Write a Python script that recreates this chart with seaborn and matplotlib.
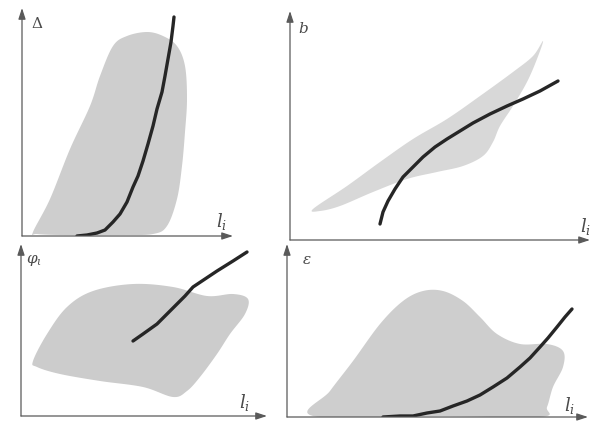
import numpy as np
import matplotlib
matplotlib.use("Agg")
import matplotlib.pyplot as plt
import seaborn as sns

sns.set_theme(style="white")
plt.rcParams["font.family"] = ["DejaVu Serif", "DejaVu Sans"]
plt.rcParams["mathtext.fontset"] = "dejavuserif"

# ---- Panel 1: deflection Δ versus l_i ----
delta_l = [55, 65, 75, 83, 91, 98, 105, 111, 116, 121, 126, 131, 135, 140, 143,
           146, 149, 151, 152]
delta_v = [0, 1, 3, 6, 14, 22, 34, 49, 60, 75, 92, 110, 127, 144, 160,
           177, 194, 210, 219]
delta_zone_x = [11, 28, 48, 68, 78, 91, 105, 125, 141, 155, 163, 165, 163, 160,
                155, 145, 131, 100, 40, 15]
delta_zone_y = [4, 37, 87, 130, 160, 190, 200, 204, 200, 190, 170, 137, 104, 70,
                37, 10, 2, 1, 1, 2]

# ---- Panel 2: width b versus l_i ----
b_l = [90, 93, 98, 105, 113, 123, 133, 145, 157, 170, 183, 200, 217, 233, 250, 268]
b_v = [16, 28, 39, 51, 63, 73, 83, 93, 101, 109, 117, 126, 134, 141, 149, 159]
b_zone_x = [23, 57, 90, 123, 157, 190, 223, 243, 253, 247, 237, 223, 210, 203,
            193, 173, 147, 117, 83, 50, 30]
b_zone_y = [31, 54, 78, 101, 121, 144, 168, 184, 199, 181, 158, 134, 114, 98,
            84, 74, 68, 61, 48, 34, 29]

# ---- Panel 3: angle φ_i versus l_i ----
phi_l = [112, 122, 136, 146, 156, 164, 172, 184, 196, 212, 226]
phi_v = [75, 82, 92, 102, 112, 120, 129, 137, 145, 155, 164]
phi_zone_x = [12, 26, 46, 72, 112, 152, 186, 212, 227, 224, 209, 196, 179, 166,
              152, 122, 79, 39, 16]
phi_zone_y = [55, 82, 109, 125, 132, 129, 120, 122, 117, 102, 82, 62, 39, 25,
              19, 29, 35, 42, 49]

# ---- Panel 4: strain ε versus l_i ----
eps_l = [96, 113, 126, 140, 153, 166, 180, 193, 206, 220, 233, 243, 253, 261,
         270, 278, 285]
eps_v = [0, 1, 1, 4, 6, 11, 16, 22, 30, 39, 50, 59, 70, 79, 90, 100, 108]
eps_zone_x = [26, 43, 66, 93, 116, 136, 156, 176, 193, 210, 233, 260, 276, 276,
              266, 260, 253, 150]
eps_zone_y = [1, 26, 56, 93, 116, 126, 126, 116, 100, 83, 73, 73, 66, 50,
              30, 10, 0, 1]

y_labels = [r"$\Delta$", r"$b$", r"$\varphi_{\iota}$", r"$\varepsilon$"]
x_label = r"$l_i$"


def smooth_closed(xs, ys, n=14):
    """Closed Catmull-Rom outline through the given vertices."""
    p = np.column_stack([xs, ys]).astype(float)
    m = len(p)
    out = []
    t = np.linspace(0, 1, n, endpoint=False)[:, None]
    for i in range(m):
        p0, p1, p2, p3 = p[i - 1], p[i], p[(i + 1) % m], p[(i + 2) % m]
        seg = 0.5 * ((2 * p1) + (-p0 + p2) * t + (2 * p0 - 5 * p1 + 4 * p2 - p3) * t ** 2
                     + (-p0 + 3 * p1 - 3 * p2 + p3) * t ** 3)
        out.append(seg)
    out = np.vstack(out)
    return out[:, 0], out[:, 1]


W_PX, H_PX = 597, 427
fig = plt.figure(figsize=(W_PX / 100, H_PX / 100), dpi=100)

# origin (px), axis extent (px), label positions in data units
panels = [
    dict(o=(22, 237), w=211, h=228, cx=delta_l, cy=delta_v, zx=delta_zone_x, zy=delta_zone_y,
         ylab=y_labels[0], ypos=(15, 214), xpos=(200, 15), zc="#cecece"),
    dict(o=(290, 241), w=300, h=229, cx=b_l, cy=b_v, zx=b_zone_x, zy=b_zone_y,
         ylab=y_labels[1], ypos=(13, 213), xpos=(296, 14), zc="#d8d8d8"),
    dict(o=(21, 417), w=246, h=172, cx=phi_l, cy=phi_v, zx=phi_zone_x, zy=phi_zone_y,
         ylab=y_labels[2], ypos=(13, 156), xpos=(224, 14), zc="#cccccc"),
    dict(o=(287, 418), w=301, h=173, cx=eps_l, cy=eps_v, zx=eps_zone_x, zy=eps_zone_y,
         ylab=y_labels[3], ypos=(20, 158), xpos=(283, 12), zc="#cecece"),
]

axis_col = "#5a5a5a"
text_col = "#4a4a4a"
for p in panels:
    ox, oy = p["o"]
    ax = fig.add_axes([ox / W_PX, (H_PX - oy) / H_PX, p["w"] / W_PX, p["h"] / H_PX])
    ax.set_xlim(0, p["w"])
    ax.set_ylim(0, p["h"])
    ax.axis("off")

    sx, sy = smooth_closed(p["zx"], p["zy"])
    ax.fill(sx, sy, color=p["zc"], lw=0, zorder=1)

    sns.lineplot(x=p["cx"], y=p["cy"], ax=ax, color="#262626", linewidth=2.4,
                 sort=False, estimator=None, zorder=3)

    arrow = dict(arrowstyle="-|>,head_length=0.55,head_width=0.18", color=axis_col,
                 lw=0.9, shrinkA=0, shrinkB=0)
    ax.annotate("", xy=(p["w"], 0), xytext=(0, 0), arrowprops=arrow, annotation_clip=False)
    ax.annotate("", xy=(0, p["h"]), xytext=(0, 0), arrowprops=arrow, annotation_clip=False)

    ax.text(*p["ypos"], p["ylab"], fontsize=11, color=text_col, ha="center", va="center")
    ax.text(*p["xpos"], x_label, fontsize=13, color=text_col, ha="center", va="center")

fig.savefig("out.png", dpi=100, facecolor="white")
